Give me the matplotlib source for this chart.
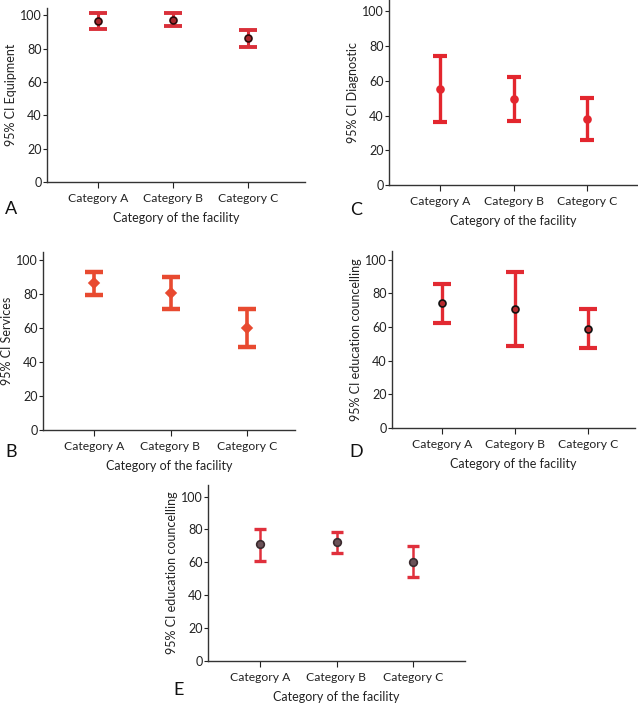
import matplotlib
matplotlib.use('Agg')
import matplotlib.pyplot as plt

plt.rcParams['font.family'] = ['Lato', 'DejaVu Sans']

categories = ['Category A', 'Category B', 'Category C']
xlabel = 'Category of the facility'

# means and 95% CI bounds
equip_mean = [96.8, 97.5, 86.2]
equip_low = [91.7, 93.6, 81.3]
equip_high = [101.7, 101.2, 91.1]

diag_mean = [55.4, 49.4, 38.0]
diag_low = [36.5, 37.1, 25.9]
diag_high = [74.1, 62.0, 50.2]

serv_mean = [86.6, 80.8, 60.2]
serv_low = [79.8, 71.4, 49.1]
serv_high = [93.4, 90.3, 71.1]

educ_d_mean = [74.1, 70.7, 59.0]
educ_d_low = [62.3, 48.7, 47.5]
educ_d_high = [85.8, 92.7, 70.9]

educ_e_mean = [70.9, 72.3, 60.2]
educ_e_low = [60.6, 65.7, 51.1]
educ_e_high = [80.4, 78.7, 69.8]

W, H = 638, 706
fig = plt.figure(figsize=(W / 100, H / 100), dpi=100)


def panel(box, ylabel, mean, low, high, color, marker, mfc, mec, ms, lw, cap, letter, letter_xy):
	left, right, top, bottom, y0, y100, tick_a, tick_c = box
	ax = fig.add_axes([left / W, 1 - bottom / H, (right - left) / W, (bottom - top) / H])
	span = y0 - y100
	ax.set_ylim((y0 - bottom) / span * -100, 100 + (y100 - top) / span * 100)
	s = (tick_c - tick_a) / 2
	ax.set_xlim((left - tick_a) / s, 2 + (right - tick_c) / s)
	x = list(range(len(categories)))
	yerr = [[m - l for m, l in zip(mean, low)], [h - m for m, h in zip(mean, high)]]
	ax.errorbar(x, mean, yerr=yerr, fmt='none', ecolor=color, elinewidth=lw,
		capsize=cap, capthick=lw + 0.6)
	ax.plot(x, mean, linestyle='none', marker=marker, ms=ms, mfc=mfc, mec=mec, mew=1.2)
	ax.set_xticks(x)
	ax.set_xticklabels(categories, fontsize=8.7, color='#222222')
	ax.set_yticks([0, 20, 40, 60, 80, 100])
	ax.tick_params(axis='y', labelsize=9, length=3, width=0.8, pad=1, colors='#222222')
	ax.tick_params(axis='x', length=4, width=0.8, pad=4, colors='#222222')
	for sp in ['top', 'right']:
		ax.spines[sp].set_visible(False)
	for sp in ['left', 'bottom']:
		ax.spines[sp].set_linewidth(1.0)
		ax.spines[sp].set_color('#333333')
	ax.set_ylabel(ylabel, fontsize=9, labelpad=2, color='#222222')
	ax.set_xlabel(xlabel, fontsize=9, labelpad=6, color='#222222')
	fig.text(letter_xy[0] / W, 1 - letter_xy[1] / H, letter, fontsize=13,
		ha='left', va='center', color='#111111')
	return ax


panel((47, 305, 8, 182, 172, 15, 98, 248), '95% CI Equipment',
	equip_mean, equip_low, equip_high, '#d9303a', 'o', '#a8262c', '#2a0a0a', 5, 2.2, 6.5, 'A', (5, 209))
panel((389, 637, 0, 185, 177, 11, 440, 587), '95% CI Diagnostic',
	diag_mean, diag_low, diag_high, '#e3262e', 'o', '#e3262e', '#e3262e', 5, 2.4, 5, 'C', (350, 210))
panel((43, 295, 252, 430, 421.7, 260, 94, 247), '95% CI Services',
	serv_mean, serv_low, serv_high, '#e84a30', 'D', '#e84a30', '#e84a30', 5, 2.6, 6.5, 'B', (5, 452))
panel((392, 635, 251, 428, 418.7, 259.3, 442, 588), '95% CI education councelling',
	educ_d_mean, educ_d_low, educ_d_high, '#e22a32', 'o', '#b82a2e', '#111111', 5, 2.4, 6.5, 'D', (349, 452))
panel((208, 465, 485, 661, 652.7, 496, 260, 413), '95% CI education councelling',
	educ_e_mean, educ_e_low, educ_e_high, '#e0303c', 'o', '#6a5258', '#3a2a2e', 5.5, 1.8, 4.5, 'E', (173, 690))

fig.savefig('out.png', dpi=100)
